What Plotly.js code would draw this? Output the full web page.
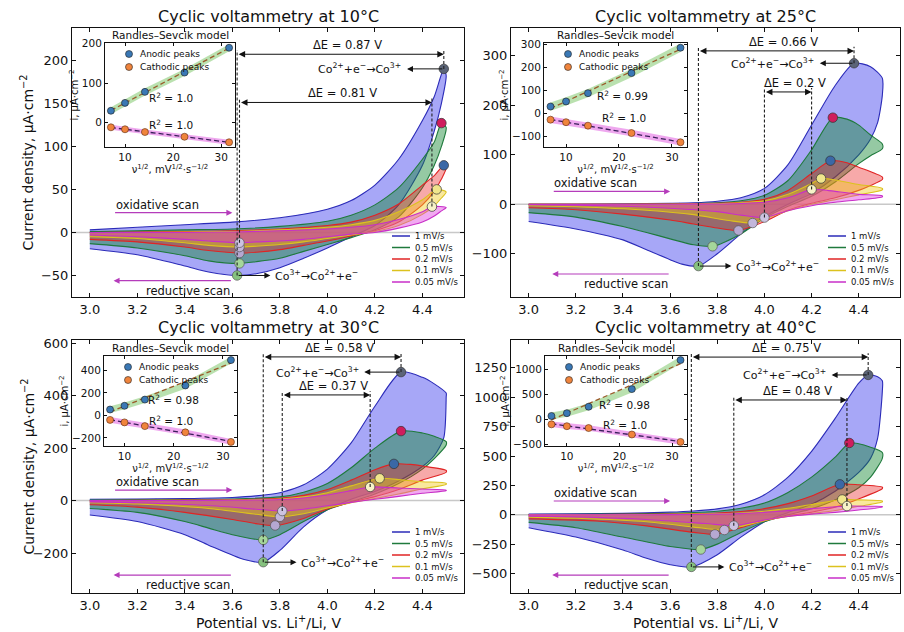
<!DOCTYPE html>
<html>
<head>
<meta charset="utf-8">
<script src="https://cdn.plot.ly/plotly-3.0.1.min.js"></script>
<style>html,body{margin:0;padding:0;background:#fff;}#chart{width:904px;height:632px;}</style>
</head>
<body>
<div id="chart"></div>
<script>
// ---------------- DATA ----------------
const RATES = ['1 mV/s', '0.5 mV/s', '0.2 mV/s', '0.1 mV/s', '0.05 mV/s'];
const SQRT_V = [31.62, 22.36, 14.14, 10.0, 7.07];
const TEMPS = ['10°C', '25°C', '30°C', '40°C'];
const R2_LABELS = [['1.0', '1.0'], ['0.99', '1.0'], ['0.98', '1.0'], ['0.98', '1.0']];

// 10 °C loops (oxidative branch then reductive branch), one array per scan rate
const T10_X = [
  [3.0,3.2,3.4,3.6,3.8,4.0,4.1,4.2,4.3,4.4,4.45,4.49,4.5,4.48,4.45,4.4,4.3,4.2,4.1,4.0,3.9,3.8,3.7,3.62,3.5,3.4,3.2,3.0],
  [3.0,3.2,3.4,3.6,3.8,4.0,4.1,4.2,4.3,4.4,4.45,4.48,4.5,4.48,4.45,4.4,4.3,4.2,4.1,4.0,3.9,3.8,3.7,3.63,3.5,3.4,3.2,3.0],
  [3.0,3.2,3.4,3.6,3.8,4.0,4.1,4.2,4.3,4.4,4.45,4.49,4.5,4.48,4.45,4.4,4.3,4.2,4.1,4.0,3.9,3.8,3.7,3.63,3.5,3.4,3.2,3.0],
  [3.0,3.2,3.4,3.6,3.8,4.0,4.1,4.2,4.3,4.4,4.46,4.5,4.48,4.45,4.4,4.3,4.2,4.1,4.0,3.9,3.8,3.7,3.63,3.5,3.4,3.2,3.0],
  [3.0,3.2,3.4,3.6,3.8,4.0,4.1,4.2,4.3,4.4,4.44,4.5,4.48,4.45,4.4,4.3,4.2,4.1,4.0,3.9,3.8,3.7,3.63,3.5,3.4,3.2,3.0]
];
const T10_Y = [
  [3,6,9,12,17,27,37,55,85,130,158,190,182,150,118,78,32,8,-5,-18,-30,-41,-48,-50,-46,-39,-26,-19],
  [1,2,3,4,7,13,20,32,52,85,105,127,122,100,78,52,18,3,-6,-14,-22,-30,-34,-36,-33,-27,-18,-13],
  [0,0.5,1,2,4,8,12,20,33,55,66,78,75,62,48,32,12,2,-4,-10,-15,-20,-23,-24,-21,-17,-11,-8],
  [0,0,0.5,1,3,6,9,14,24,38,50,47,40,31,21,8,1,-3,-7,-11,-14,-16,-17,-15,-12,-7,-5],
  [0,0,0,0.5,2,4,6,9,15,24,30,29,25,19,12,5,0,-2,-5,-8,-10,-11,-12,-10,-8,-5,-3]
];
const T10_AN_X = [4.49, 4.48, 4.49, 4.46, 4.44];
const T10_AN_Y = [190, 127, 78, 50, 30];
const T10_CA_X = [3.62, 3.63, 3.63, 3.63, 3.63];
const T10_CA_Y = [-50, -36, -24, -17, -12];

// 25 °C loops
const T25_X = [
  [3.0,3.2,3.4,3.6,3.7,3.8,3.9,4.0,4.1,4.2,4.3,4.38,4.45,4.5,4.5,4.48,4.45,4.4,4.3,4.2,4.1,4.0,3.9,3.8,3.72,3.65,3.6,3.5,3.4,3.3,3.2,3.0],
  [3.0,3.2,3.4,3.6,3.8,3.9,4.0,4.1,4.2,4.29,4.35,4.4,4.45,4.5,4.5,4.45,4.4,4.3,4.2,4.1,4.0,3.9,3.78,3.7,3.6,3.5,3.4,3.2,3.0],
  [3.0,3.2,3.4,3.6,3.8,3.9,4.0,4.1,4.2,4.28,4.35,4.4,4.5,4.5,4.45,4.4,4.3,4.2,4.1,4.0,3.89,3.8,3.7,3.6,3.4,3.2,3.0],
  [3.0,3.2,3.4,3.6,3.8,3.9,4.0,4.1,4.2,4.24,4.3,4.4,4.5,4.5,4.4,4.3,4.2,4.1,4.0,3.95,3.85,3.7,3.5,3.2,3.0],
  [3.0,3.2,3.4,3.6,3.8,3.9,4.0,4.1,4.2,4.25,4.3,4.4,4.5,4.5,4.4,4.3,4.2,4.1,4.0,3.9,3.8,3.6,3.4,3.2,3.0]
];
const T25_Y = [
  [0,0,1,2,3,6,13,32,80,160,240,285,278,255,220,165,132,100,55,22,0,-25,-60,-100,-125,-121,-112,-92,-72,-60,-50,-35],
  [0,0,0,1,3,7,18,48,110,175,172,160,140,122,112,98,82,45,16,-4,-28,-60,-85,-82,-70,-57,-45,-26,-17],
  [0,0,0,0.5,2,4,10,28,62,88,84,75,55,50,38,28,13,2,-12,-35,-53,-48,-40,-32,-20,-11,-7],
  [0,0,0,0,1,3,7,20,42,52,49,40,32,29,19,9,0,-13,-30,-38,-33,-21,-12,-5,-3],
  [0,0,0,0,0.5,1.5,4,13,30,29,26,20,17,15,9,4,-3,-13,-27,-22,-15,-8,-4,-2,-1]
];
const T25_AN_X = [4.38, 4.29, 4.28, 4.24, 4.2];
const T25_AN_Y = [285, 175, 88, 52, 30];
const T25_CA_X = [3.72, 3.78, 3.89, 3.95, 4.0];
const T25_CA_Y = [-125, -85, -53, -38, -27];

// 30 °C loops
const T30_X = [
  [3.0,3.2,3.4,3.6,3.7,3.8,3.9,4.0,4.1,4.2,4.31,4.4,4.45,4.5,4.5,4.49,4.45,4.4,4.3,4.2,4.1,4.0,3.9,3.8,3.73,3.65,3.5,3.4,3.2,3.0],
  [3.0,3.2,3.4,3.6,3.8,3.9,4.0,4.1,4.2,4.31,4.4,4.45,4.5,4.5,4.45,4.4,4.3,4.2,4.1,4.0,3.9,3.8,3.73,3.6,3.5,3.4,3.2,3.0],
  [3.0,3.2,3.4,3.6,3.8,3.9,4.0,4.1,4.2,4.28,4.35,4.4,4.5,4.5,4.4,4.3,4.2,4.1,4.0,3.9,3.78,3.7,3.6,3.4,3.2,3.0],
  [3.0,3.2,3.4,3.6,3.8,3.9,4.0,4.1,4.22,4.3,4.4,4.5,4.5,4.4,4.3,4.2,4.1,4.0,3.9,3.8,3.7,3.5,3.2,3.0],
  [3.0,3.2,3.4,3.6,3.8,3.9,4.0,4.1,4.18,4.3,4.4,4.5,4.5,4.4,4.3,4.2,4.1,4.0,3.9,3.81,3.7,3.5,3.2,3.0]
];
const T30_Y = [
  [5,6,8,12,18,30,60,120,220,360,490,470,445,410,395,240,172,130,75,35,5,-35,-100,-190,-235,-225,-170,-130,-80,-55],
  [2,3,4,6,14,32,65,125,200,265,258,245,225,212,160,120,65,25,-5,-35,-80,-130,-150,-130,-105,-80,-45,-30],
  [0,1,2,3,9,20,42,78,118,140,138,132,115,108,78,42,15,-6,-32,-68,-95,-88,-72,-45,-25,-16],
  [0,0.5,1,2,6,14,30,56,85,80,72,66,62,45,25,8,-8,-28,-50,-62,-52,-30,-13,-8],
  [0,0,0.5,1,4,10,21,38,52,48,44,40,38,28,16,5,-7,-20,-33,-40,-33,-19,-8,-5]
];
const T30_AN_X = [4.31, 4.31, 4.28, 4.22, 4.18];
const T30_AN_Y = [490, 265, 140, 85, 52];
const T30_CA_X = [3.73, 3.73, 3.78, 3.8, 3.81];
const T30_CA_Y = [-235, -150, -95, -62, -40];

// 40 °C loops
const T40_X = [
  [3.0,3.2,3.4,3.6,3.7,3.8,3.9,4.0,4.1,4.2,4.3,4.4,4.44,4.48,4.5,4.5,4.48,4.45,4.4,4.3,4.2,4.1,4.0,3.9,3.8,3.69,3.6,3.5,3.4,3.2,3.0],
  [3.0,3.2,3.4,3.6,3.8,3.9,4.0,4.1,4.2,4.3,4.36,4.4,4.45,4.5,4.5,4.45,4.4,4.3,4.2,4.1,4.0,3.9,3.8,3.73,3.6,3.4,3.2,3.0],
  [3.0,3.2,3.4,3.6,3.8,3.9,4.0,4.1,4.2,4.32,4.4,4.5,4.5,4.4,4.3,4.2,4.1,4.0,3.9,3.79,3.7,3.5,3.3,3.0],
  [3.0,3.2,3.4,3.6,3.8,3.9,4.0,4.1,4.2,4.33,4.4,4.5,4.5,4.4,4.3,4.2,4.1,4.0,3.9,3.83,3.7,3.5,3.2,3.0],
  [3.0,3.2,3.4,3.6,3.8,3.9,4.0,4.1,4.2,4.35,4.45,4.5,4.5,4.4,4.3,4.2,4.1,4.0,3.87,3.75,3.5,3.2,3.0]
];
const T40_Y = [
  [5,8,12,22,32,50,90,170,320,540,820,1120,1190,1175,1140,1050,650,480,360,200,90,20,-60,-190,-340,-444,-425,-370,-300,-190,-110],
  [2,4,7,13,30,55,100,190,320,490,611,605,575,530,480,320,230,125,50,0,-60,-150,-250,-296,-270,-190,-110,-65],
  [0,1,3,6,15,28,52,95,160,259,255,235,222,135,65,22,-10,-50,-110,-167,-150,-95,-55,-35],
  [0,0.5,1,3,8,15,30,55,88,130,127,118,110,72,36,10,-15,-50,-100,-130,-105,-60,-30,-20],
  [0,0,0.5,1,5,10,20,35,52,74,72,70,66,40,20,5,-15,-45,-93,-75,-40,-18,-12]
];
const T40_AN_X = [4.44, 4.36, 4.32, 4.33, 4.35];
const T40_AN_Y = [1190, 611, 259, 130, 74];
const T40_CA_X = [3.69, 3.73, 3.79, 3.83, 3.87];
const T40_CA_Y = [-444, -296, -167, -130, -93];

// ---------------- STYLE / LAYOUT ----------------
const FONT = 'DejaVu Sans, Liberation Sans, Arial, sans-serif';
const W = 904, H = 632;
const fx = v => v / W;
const fy = v => 1 - v / H;

const LINE_COLORS = ['#2b2bb8', '#1f7a3c', '#e02424', '#dcc21e', '#c82fc8'];
const FILL_COLORS = ['rgba(45,45,235,0.42)', 'rgba(20,135,50,0.45)', 'rgba(235,30,30,0.38)', 'rgba(240,200,20,0.42)', 'rgba(220,40,220,0.40)'];
const AN_COLORS = ['#5b6478', '#cf1d5d', '#3b68a6', '#f0e68c', '#f7f3c8'];
const CA_COLORS = ['#86c27f', '#a5d79a', '#b5a8d2', '#c2b6da', '#cdc3e2'];

const PANELS = [
  {X: T10_X, Y: T10_Y, AX: T10_AN_X, AY: T10_AN_Y, CX: T10_CA_X, CY: T10_CA_Y,
   box: [72, 28, 464, 297], inset: [105, 43, 235, 147], dtick: 50, idtick: 100, tgap: 12,
   de: [{k: 0, y: 207}, {k: 4, y: 151}], oxY: 23, redY: -56, coX: 4.32, band: [9, 6.5],
   r2A: [0.51, 0.48], r2C: [0.51, 0.22]},
  {X: T25_X, Y: T25_Y, AX: T25_AN_X, AY: T25_AN_Y, CX: T25_CA_X, CY: T25_CA_Y,
   box: [511, 28, 900, 297], inset: [544, 43, 687, 147], dtick: 100, idtick: 100, tgap: 12,
   de: [{k: 0, y: 310}, {k: 4, y: 227}], oxY: 26, redY: -141, coX: 4.22, band: [18, 14],
   r2A: [0.55, 0.50], r2C: [0.56, 0.28]},
  {X: T30_X, Y: T30_Y, AX: T30_AN_X, AY: T30_AN_Y, CX: T30_CA_X, CY: T30_CA_Y,
   box: [72, 340, 464, 593], inset: [104, 356, 237, 446], dtick: 200, idtick: 200, tgap: 13,
   de: [{k: 0, y: 548}, {k: 4, y: 403}], oxY: 40, redY: -284, coX: 4.14, band: [30, 25],
   r2A: [0.52, 0.52], r2C: [0.50, 0.28]},
  {X: T40_X, Y: T40_Y, AX: T40_AN_X, AY: T40_AN_Y, CX: T40_CA_X, CY: T40_CA_Y,
   box: [511, 340, 900, 593], inset: [545, 356, 687, 446], dtick: 250, idtick: 500, tgap: 13,
   de: [{k: 0, y: 1342}, {k: 4, y: 977}], oxY: 117, redY: -513, coX: 4.27, band: [70, 55],
   r2A: [0.56, 0.46], r2C: [0.56, 0.24]}
];

const traces = [], shapes = [], annotations = [];
const layout = {
  width: W, height: H, margin: {l: 0, r: 0, t: 0, b: 0},
  paper_bgcolor: '#ffffff', plot_bgcolor: 'rgba(0,0,0,0)', showlegend: false,
  font: {family: FONT, color: '#111'}
};

function axisBase(fontSize, len) {
  return {ticks: 'inside', ticklen: len, tickwidth: 1, tickcolor: '#111', mirror: 'ticks',
          showline: true, linecolor: '#111', linewidth: 1, showgrid: false, zeroline: false,
          tickfont: {family: FONT, size: fontSize, color: '#111'}};
}
function linfit(xs, ys) {
  const n = xs.length;
  const mx = xs.reduce((a, b) => a + b, 0) / n, my = ys.reduce((a, b) => a + b, 0) / n;
  let sxy = 0, sxx = 0;
  for (let j = 0; j < n; j++) { sxy += (xs[j] - mx) * (ys[j] - my); sxx += (xs[j] - mx) ** 2; }
  const a = sxy / sxx; return [a, my - a * mx];
}
function txt(o) {
  return Object.assign({showarrow: false, xanchor: 'center', yanchor: 'middle'}, o);
}

PANELS.forEach((p, i) => {
  const n = i + 1, m = i + 5;
  const xa = n === 1 ? 'x' : 'x' + n, ya = n === 1 ? 'y' : 'y' + n;
  const xk = n === 1 ? 'xaxis' : 'xaxis' + n, yk = n === 1 ? 'yaxis' : 'yaxis' + n;
  const xi = 'x' + m, yi = 'y' + m;
  const [L, T, R, B] = p.box;
  const yMin = 1.5 * Math.min(...p.CY), yMax = 1.25 * Math.max(...p.AY);
  const dy = 0.015 * (yMax - yMin);

  layout[xk] = Object.assign(axisBase(13, 4), {domain: [fx(L), fx(R)], range: [2.925, 4.575], anchor: ya,
    tick0: 3, dtick: 0.2, tickformat: '.1f'});
  layout[yk] = Object.assign(axisBase(13, 4), {domain: [fy(B), fy(T)], range: [yMin, yMax], anchor: xa,
    tick0: 0, dtick: p.dtick});

  shapes.push({type: 'line', xref: xa + ' domain', yref: ya, x0: 0, x1: 1, y0: 0, y1: 0,
    line: {color: '#c8c8c8', width: 1.5}, layer: 'below'});

  for (let r = 0; r < 5; r++) {
    traces.push({x: p.X[r], y: p.Y[r], xaxis: xa, yaxis: ya, mode: 'lines', fill: 'toself',
      fillcolor: FILL_COLORS[r], line: {color: LINE_COLORS[r], width: 1.1, shape: 'spline', smoothing: 0.7},
      hoverinfo: 'skip', showlegend: false});
  }
  traces.push({x: p.AX, y: p.AY, xaxis: xa, yaxis: ya, mode: 'markers',
    marker: {color: AN_COLORS, size: 9.5, line: {color: '#333', width: 0.7}}, hoverinfo: 'skip'});
  traces.push({x: p.CX, y: p.CY, xaxis: xa, yaxis: ya, mode: 'markers',
    marker: {color: CA_COLORS, size: 9.5, line: {color: '#555', width: 0.7}}, hoverinfo: 'skip'});

  p.de.forEach(d => {
    const k = d.k, ax = p.AX[k], cx = p.CX[k];
    shapes.push({type: 'line', xref: xa, yref: ya, x0: ax, x1: ax, y0: p.AY[k], y1: d.y + dy,
      line: {color: '#222', width: 1.1, dash: '3px,2px'}});
    shapes.push({type: 'line', xref: xa, yref: ya, x0: cx, x1: cx, y0: p.CY[k], y1: d.y + dy,
      line: {color: '#222', width: 1.1, dash: '3px,2px'}});
    annotations.push({xref: xa, yref: ya, axref: xa, ayref: ya, x: ax, y: d.y, ax: cx, ay: d.y, text: '',
      showarrow: true, arrowhead: 2, startarrowhead: 2, arrowside: 'end+start', arrowsize: 1.3,
      arrowwidth: 1, arrowcolor: '#111'});
    const val = Math.round((ax - cx) * 100) / 100;
    annotations.push(txt({xref: xa, yref: ya, x: (ax + cx) / 2 + 0.03, y: d.y, yshift: 9,
      text: 'ΔE = ' + val + ' V', font: {size: 11.5, family: FONT, color: '#111'}}));
  });

  annotations.push({xref: xa, yref: ya, axref: xa, ayref: ya, x: p.coX + 0.015, y: p.AY[0], ax: p.AX[0], ay: p.AY[0],
    text: '', showarrow: true, arrowhead: 2, arrowsize: 1.2, arrowwidth: 1, arrowcolor: '#111'});
  annotations.push(txt({xref: xa, yref: ya, x: p.coX, y: p.AY[0], xanchor: 'right',
    text: 'Co<sup>2+</sup>+e<sup>−</sup>→Co<sup>3+</sup>', font: {size: 11, family: FONT, color: '#111'}}));
  annotations.push({xref: xa, yref: ya, axref: xa, ayref: ya, x: p.CX[0] + 0.14, y: p.CY[0], ax: p.CX[0], ay: p.CY[0],
    text: '', showarrow: true, arrowhead: 2, arrowsize: 1.2, arrowwidth: 1, arrowcolor: '#111'});
  annotations.push(txt({xref: xa, yref: ya, x: p.CX[0] + 0.15, y: p.CY[0], xanchor: 'left',
    text: 'Co<sup>3+</sup>→Co<sup>2+</sup>+e<sup>−</sup>', font: {size: 11, family: FONT, color: '#111'}}));

  annotations.push({xref: xa, yref: ya, axref: xa, ayref: ya, x: 3.6, y: p.oxY, ax: 3.1, ay: p.oxY, text: '',
    showarrow: true, arrowhead: 2, arrowsize: 1, arrowwidth: 1.2, arrowcolor: '#b53cbb'});
  annotations.push(txt({xref: xa, yref: ya, x: 3.1, y: p.oxY, yshift: 8, xanchor: 'left',
    text: 'oxidative scan', font: {size: 11.5, family: FONT, color: '#111'}}));
  annotations.push({xref: xa, yref: ya, axref: xa, ayref: ya, x: 3.1, y: p.redY, ax: 3.6, ay: p.redY, text: '',
    showarrow: true, arrowhead: 2, arrowsize: 1, arrowwidth: 1.2, arrowcolor: '#b53cbb'});
  annotations.push(txt({xref: xa, yref: ya, x: 3.6, y: p.redY, yshift: -10, xanchor: 'right',
    text: 'reductive scan', font: {size: 11.5, family: FONT, color: '#111'}}));

  const offs = [61, 49.5, 38, 26.5, 15];
  RATES.forEach((lab, r) => {
    shapes.push({type: 'line', xref: 'paper', yref: 'paper', x0: fx(R - 72), x1: fx(R - 54),
      y0: fy(B - offs[r]), y1: fy(B - offs[r]), line: {color: LINE_COLORS[r], width: 1.5}});
    annotations.push(txt({xref: 'paper', yref: 'paper', x: fx(R - 51), y: fy(B - offs[r]), xanchor: 'left',
      text: lab, font: {size: 8.5, family: FONT, color: '#111'}}));
  });

  annotations.push(txt({xref: 'paper', yref: 'paper', x: fx((L + R) / 2), y: fy(T - p.tgap),
    text: 'Cyclic voltammetry at ' + TEMPS[i], font: {size: 16, family: FONT, color: '#111'}}));
  if (i % 2 === 0) {
    annotations.push(txt({xref: 'paper', yref: 'paper', x: fx(28), y: fy((T + B) / 2), textangle: -90,
      text: 'Current density, µA·cm<sup>−2</sup>', font: {size: 14, family: FONT, color: '#111'}}));
  }
  if (i >= 2) {
    annotations.push(txt({xref: 'paper', yref: 'paper', x: fx((L + R) / 2), y: fy(622),
      text: 'Potential vs. Li<sup>+</sup>/Li, V', font: {size: 14, family: FONT, color: '#111'}}));
  }

  // ---------- inset: Randles–Sevcik ----------
  const [iL, iT, iR, iB] = p.inset;
  const xs = SQRT_V, xmin = Math.min(...xs), xmax = Math.max(...xs), xm = 0.05 * (xmax - xmin);
  const allY = p.AY.concat(p.CY), ymn = Math.min(...allY), ymx = Math.max(...allY), ym = 0.05 * (ymx - ymn);
  layout['xaxis' + m] = Object.assign(axisBase(10.5, 3), {domain: [fx(iL), fx(iR)], range: [xmin - xm, xmax + xm],
    anchor: yi, tick0: 0, dtick: 10,
    title: {text: 'ν<sup>1/2</sup>, mV<sup>1/2</sup>·s<sup>−1/2</sup>', font: {size: 10, family: FONT, color: '#111'}, standoff: 0}});
  layout['yaxis' + m] = Object.assign(axisBase(10.5, 3), {domain: [fy(iB), fy(iT)], range: [ymn - ym, ymx + ym],
    anchor: xi, tick0: 0, dtick: p.idtick,
    title: {text: 'i, µA·cm<sup>−2</sup>', font: {size: 10, family: FONT, color: '#111'}, standoff: 1}});

  const ord = xs.map((v, j) => j).sort((a, b) => xs[a] - xs[b]);
  const bx = ord.map(j => xs[j]);
  const bandX = bx.concat(bx.slice().reverse());
  const bandA = ord.map(j => p.AY[j] + p.band[0]).concat(ord.slice().reverse().map(j => p.AY[j] - p.band[0]));
  const bandC = ord.map(j => p.CY[j] + p.band[1]).concat(ord.slice().reverse().map(j => p.CY[j] - p.band[1]));
  traces.push({x: bandX, y: bandA, xaxis: xi, yaxis: yi, mode: 'lines', fill: 'toself',
    fillcolor: 'rgba(130,200,110,0.55)', line: {width: 0}, hoverinfo: 'skip'});
  traces.push({x: bandX, y: bandC, xaxis: xi, yaxis: yi, mode: 'lines', fill: 'toself',
    fillcolor: 'rgba(228,110,228,0.6)', line: {width: 0}, hoverinfo: 'skip'});
  const fa = linfit(xs, p.AY), fc = linfit(xs, p.CY);
  const lx = [bx[0], bx[bx.length - 1]];
  traces.push({x: lx, y: lx.map(v => fa[0] * v + fa[1]), xaxis: xi, yaxis: yi, mode: 'lines',
    line: {color: '#9a5a2a', width: 1.3, dash: '5px,3px'}, hoverinfo: 'skip'});
  traces.push({x: lx, y: lx.map(v => fc[0] * v + fc[1]), xaxis: xi, yaxis: yi, mode: 'lines',
    line: {color: '#3a1f5a', width: 1.3, dash: '5px,3px'}, hoverinfo: 'skip'});
  traces.push({x: xs, y: p.AY, xaxis: xi, yaxis: yi, mode: 'markers',
    marker: {color: '#3a78b5', size: 7, line: {color: '#1a1a1a', width: 0.6}}, hoverinfo: 'skip'});
  traces.push({x: xs, y: p.CY, xaxis: xi, yaxis: yi, mode: 'markers',
    marker: {color: '#f0843c', size: 7, line: {color: '#5a2a10', width: 0.6}}, hoverinfo: 'skip'});

  annotations.push(txt({xref: xi + ' domain', yref: yi + ' domain', x: 0.5, y: 1, yanchor: 'bottom', yshift: 0,
    text: 'Randles–Sevcik model', font: {size: 10.5, family: FONT, color: '#111'}}));
  annotations.push(txt({xref: xi + ' domain', yref: yi + ' domain', x: p.r2A[0], y: p.r2A[1],
    text: 'R<sup>2</sup> = ' + R2_LABELS[i][0], font: {size: 10.5, family: FONT, color: '#111'}}));
  annotations.push(txt({xref: xi + ' domain', yref: yi + ' domain', x: p.r2C[0], y: p.r2C[1],
    text: 'R<sup>2</sup> = ' + R2_LABELS[i][1], font: {size: 10.5, family: FONT, color: '#111'}}));

  [['Anodic peaks', '#3a78b5'], ['Cathodic peaks', '#f0843c']].forEach((it, j) => {
    const cy = iT + 11 + 13 * j, cx = iL + 24;
    shapes.push({type: 'circle', xref: 'paper', yref: 'paper', xsizemode: 'pixel', ysizemode: 'pixel',
      xanchor: fx(cx), yanchor: fy(cy), x0: -3.5, x1: 3.5, y0: -3.5, y1: 3.5,
      fillcolor: it[1], line: {color: '#222', width: 0.6}});
    annotations.push(txt({xref: 'paper', yref: 'paper', x: fx(cx + 9), y: fy(cy), xanchor: 'left',
      text: it[0], font: {size: 9, family: FONT, color: '#111'}}));
  });
});

layout.shapes = shapes;
layout.annotations = annotations;
Plotly.newPlot('chart', traces, layout, {staticPlot: true, displayModeBar: false});
</script>
</body>
</html>
